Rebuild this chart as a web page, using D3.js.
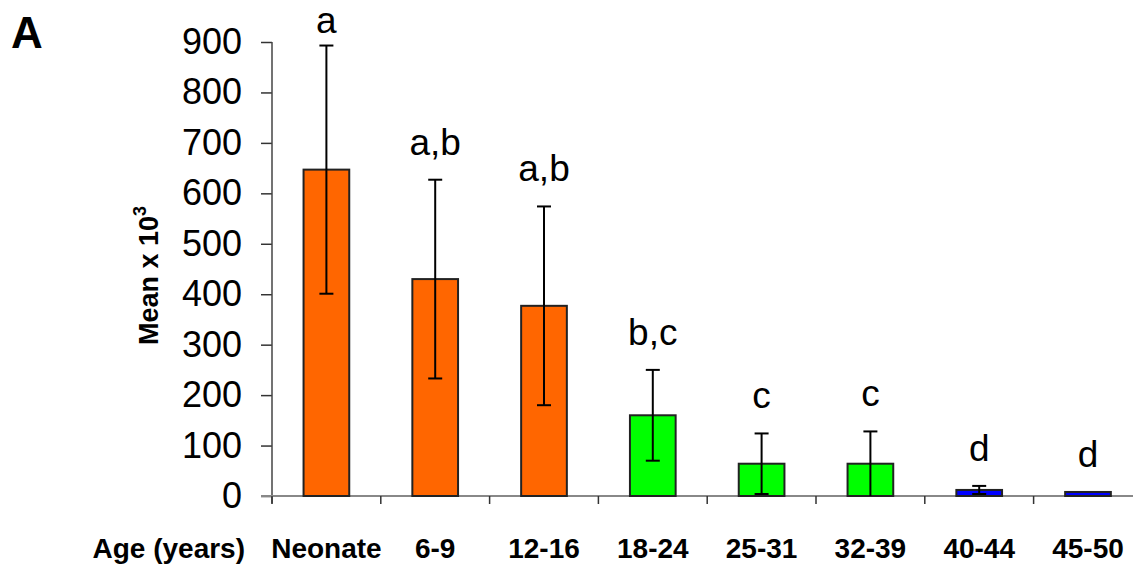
<!DOCTYPE html>
<html>
<head>
<meta charset="utf-8">
<script src="https://cdn.jsdelivr.net/npm/d3@7"></script>
<style>
  html, body { margin: 0; padding: 0; background: #fff; }
  svg { display: block; font-family: "Liberation Sans", Arial, sans-serif; }
</style>
</head>
<body>
<svg id="chart" width="1133" height="565"></svg>
<script>
// ---- data ----
const categories = ["Neonate", "6-9", "12-16", "18-24", "25-31", "32-39", "40-44", "45-50"];
const means      = [647, 430, 377, 160, 64, 64, 12, 8];
const errors     = [246, 197, 197, 90, 60, 64, 8, 0];
const letters    = ["a", "a,b", "a,b", "b,c", "c", "c", "d", "d"];
const groups     = ["young", "young", "young", "adult", "adult", "adult", "older", "older"];
const yTicks     = [0, 100, 200, 300, 400, 500, 600, 700, 800, 900];

const rows = categories.map((c, i) => ({
  cat: c, mean: means[i], err: errors[i], letter: letters[i], group: groups[i]
}));

const svg = d3.select("#chart");

const x = d3.scaleBand().domain(categories).range([272, 1142.4]).padding(0);
const y = d3.scaleLinear().domain([0, 900]).range([496, 42]);
const color = d3.scaleOrdinal().domain(["young", "adult", "older"])
  .range(["#FF6600", "#00FF00", "#0000FF"]);

const barW = x.bandwidth() * 0.42;
const cx = d => x(d.cat) + x.bandwidth() / 2;

// ---- y axis ----
const yAxis = svg.append("g").attr("transform", "translate(272,0)")
  .call(d3.axisLeft(y).tickValues(yTicks).tickSize(11).tickPadding(19));
yAxis.select(".domain").remove();
yAxis.selectAll(".tick line").attr("stroke", "#333").attr("stroke-width", 1.5);
yAxis.selectAll(".tick text")
  .attr("fill", "#000").attr("font-size", 36)
  .attr("font-family", "Liberation Sans, Arial, sans-serif");
svg.append("line")
  .attr("x1", 272).attr("x2", 272)
  .attr("y1", y(900)).attr("y2", y(0) + 7.5)
  .attr("stroke", "#444").attr("stroke-width", 1.5);

// ---- x axis ----
svg.append("line")
  .attr("x1", 261).attr("x2", 1133)
  .attr("y1", y(0)).attr("y2", y(0))
  .attr("stroke", "#888").attr("stroke-width", 2);
svg.append("g").selectAll("line").data(categories).join("line")
  .attr("x1", d => x(d)).attr("x2", d => x(d))
  .attr("y1", y(0)).attr("y2", y(0) + 8)
  .attr("stroke", "#333").attr("stroke-width", 1.5);

// ---- bars ----
svg.append("g").selectAll("rect").data(rows).join("rect")
  .attr("x", d => cx(d) - barW / 2)
  .attr("width", barW)
  .attr("y", d => y(d.mean))
  .attr("height", d => y(0) - y(d.mean))
  .attr("fill", d => color(d.group))
  .attr("stroke", "#222")
  .attr("stroke-width", 2);

// ---- error bars ----
const eb = svg.append("g").selectAll("g").data(rows.filter(d => d.err > 0)).join("g")
  .attr("stroke", "#000").attr("stroke-width", 2);
eb.append("line")
  .attr("x1", cx).attr("x2", cx)
  .attr("y1", d => y(d.mean + d.err))
  .attr("y2", d => y(Math.max(0, d.mean - d.err)));
eb.append("line")
  .attr("x1", d => cx(d) - 7).attr("x2", d => cx(d) + 7)
  .attr("y1", d => y(d.mean + d.err)).attr("y2", d => y(d.mean + d.err));
eb.filter(d => d.mean - d.err > 0).append("line")
  .attr("x1", d => cx(d) - 7).attr("x2", d => cx(d) + 7)
  .attr("y1", d => y(d.mean - d.err)).attr("y2", d => y(d.mean - d.err));

// ---- significance letters ----
svg.append("g").selectAll("text").data(rows).join("text")
  .attr("x", cx)
  .attr("y", d => Math.max(y(d.mean + d.err) - 25, 33))
  .attr("text-anchor", "middle")
  .attr("font-size", 37)
  .attr("fill", "#000")
  .text(d => d.letter);

// ---- category labels ----
svg.append("g").selectAll("text").data(categories).join("text")
  .attr("x", d => x(d) + x.bandwidth() / 2)
  .attr("y", 558)
  .attr("text-anchor", "middle")
  .attr("font-size", 28)
  .attr("font-weight", "bold")
  .text(d => d);
svg.append("text")
  .attr("x", 245).attr("y", 558)
  .attr("text-anchor", "end")
  .attr("font-size", 28)
  .attr("font-weight", "bold")
  .text("Age (years)");

// ---- y title ----
const yt = svg.append("text")
  .attr("transform", "translate(158,345) rotate(-90)")
  .attr("font-size", 27)
  .attr("font-weight", "bold");
yt.append("tspan").text("Mean x 10");
yt.append("tspan").attr("dy", -12).attr("font-size", 18).text("3");

// ---- panel label ----
svg.append("text")
  .attr("x", 11).attr("y", 48)
  .attr("font-size", 44)
  .attr("font-weight", "bold")
  .text("A");
</script>
</body>
</html>
